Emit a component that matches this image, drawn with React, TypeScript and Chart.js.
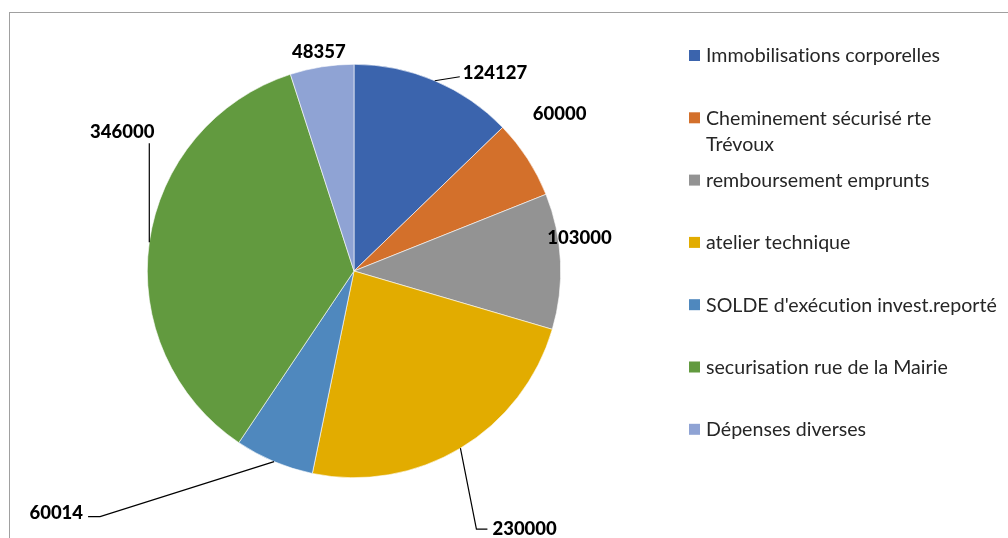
import React, { useEffect, useRef } from "react";
import { Chart, registerables } from "chart.js";

Chart.register(...registerables);

const categories = [
  "Immobilisations corporelles",
  "Cheminement sécurisé rte Trévoux",
  "remboursement emprunts",
  "atelier technique",
  "SOLDE d'exécution invest.reporté",
  "securisation rue de la Mairie",
  "Dépenses diverses",
];
const values = [124127, 60000, 103000, 230000, 60014, 346000, 48357];
const colors = ["#3B64AD", "#D3702B", "#939393", "#E2AC00", "#4F88BE", "#629A3F", "#8FA3D4"];

// label placement relative to each slice's outer mid-point (style only)
type LabelStyle = { dx: number; dy: number; align: CanvasTextAlign; leader: number[][] };
const labelStyles: LabelStyle[] = [
  { dx: 28, dy: -8, align: "left", leader: [[25, -4]] },
  { dx: 32, dy: -45, align: "center", leader: [] },
  { dx: 19, dy: -23, align: "center", leader: [] },
  { dx: 32, dy: 81, align: "left", leader: [[16, 81], [27, 81]] },
  { dx: -191, dy: 51, align: "right", leader: [[-174, 55], [-186, 55]] },
  { dx: -27, dy: -110, align: "center", leader: [[0, -99]] },
  { dx: -3, dy: -15, align: "center", leader: [] },
];

const FONT = "Lato, 'Open Sans', sans-serif";

const decorPlugin = {
  id: "decor",
  beforeDraw(chart: any) {
    const ctx = chart.ctx;
    ctx.save();
    ctx.strokeStyle = "#A0A0A0";
    ctx.lineWidth = 1;
    ctx.strokeRect(9.5, 12.5, 1100, 600);
    ctx.restore();
  },
  afterDraw(chart: any) {
    const ctx = chart.ctx;
    const meta = chart.getDatasetMeta(0);
    ctx.save();
    // data labels
    meta.data.forEach((arc: any, i: number) => {
      const p = arc.getProps(["x", "y", "startAngle", "endAngle", "outerRadius"], true);
      const mid = (p.startAngle + p.endAngle) / 2;
      const ex = p.x + Math.cos(mid) * p.outerRadius;
      const ey = p.y + Math.sin(mid) * p.outerRadius;
      const st = labelStyles[i];
      if (st.leader.length) {
        ctx.beginPath();
        ctx.strokeStyle = "#000";
        ctx.lineWidth = 1.2;
        ctx.moveTo(ex, ey);
        st.leader.forEach((pt) => ctx.lineTo(ex + pt[0], ey + pt[1]));
        ctx.stroke();
      }
      ctx.fillStyle = "#000";
      ctx.font = `900 18.5px ${FONT}`;
      ctx.textAlign = st.align;
      ctx.textBaseline = "middle";
      ctx.fillText(String(values[i]), ex + st.dx, ey + st.dy);
    });
    // legend
    const lx = 689;
    const tx = 706;
    const maxW = 296;
    ctx.font = `19.6px ${FONT}`;
    try {
      (ctx as any).letterSpacing = "0.01px";
    } catch (e) {}
    ctx.textAlign = "left";
    ctx.textBaseline = "middle";
    categories.forEach((label, i) => {
      const y = 56 + i * 62.3;
      ctx.fillStyle = colors[i];
      ctx.fillRect(lx, y - 6, 11, 11);
      ctx.fillStyle = "#262626";
      const words = label.split(" ");
      const lines: string[] = [];
      let cur = "";
      words.forEach((w) => {
        const test = cur ? cur + " " + w : w;
        if (ctx.measureText(test).width > maxW && cur) {
          lines.push(cur);
          cur = w;
        } else cur = test;
      });
      lines.push(cur);
      lines.forEach((ln, k) => ctx.fillText(ln, tx, y + k * 26));
    });
    ctx.restore();
  },
};

export default function App() {
  const ref = useRef<HTMLCanvasElement>(null);
  useEffect(() => {
    if (!ref.current) return;
    const chart = new Chart(ref.current, {
      type: "pie",
      data: {
        labels: categories,
        datasets: [
          {
            data: values,
            backgroundColor: colors,
            borderColor: "#ffffff",
            borderWidth: 0.6,
          },
        ],
      },
      options: {
        animation: false,
        responsive: false,
        layout: { padding: { left: 147, right: 447, top: 64, bottom: 60 } },
        plugins: { legend: { display: false }, tooltip: { enabled: false } },
      },
      plugins: [decorPlugin],
    });
    return () => chart.destroy();
  }, []);
  return (
    <div style={{ position: "fixed", left: 0, top: 0, width: 1008, height: 538, background: "#fff" }}>
      <canvas ref={ref} width={1008} height={538} style={{ width: 1008, height: 538 }} />
    </div>
  );
}
